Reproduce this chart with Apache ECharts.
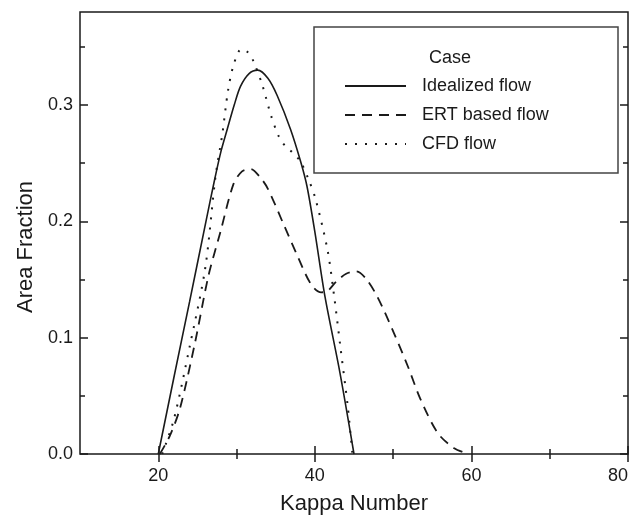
<!DOCTYPE html>
<html>
<head>
<meta charset="utf-8">
<script src="https://cdn.jsdelivr.net/npm/echarts@6/dist/echarts.min.js"></script>
<style>
  html, body { margin: 0; padding: 0; background: #fff; }
  #chart { width: 633px; height: 517px; }
</style>
</head>
<body>
<div id="chart"></div>
<script>
// data: [kappa number, area fraction]
var idealizedFlow = [
  [20, 0], [22, 0.066], [24, 0.131], [26, 0.197], [27.2, 0.236], [28, 0.26],
  [28.8, 0.279], [29.7, 0.3], [30.5, 0.316], [31.6, 0.327], [32.7, 0.330],
  [34, 0.323], [35.2, 0.308], [36.9, 0.279], [38.2, 0.251], [39, 0.23],
  [40, 0.191], [41.3, 0.135], [43.2, 0.07], [45, 0]
];
var ertFlow = [
  [20.2, 0], [21.5, 0.016], [22.8, 0.04], [24.7, 0.096], [26.4, 0.153], [27.9, 0.19],
  [29.6, 0.232], [30.7, 0.243], [31.8, 0.245], [33, 0.238], [34, 0.228],
  [36.1, 0.196], [37.8, 0.17], [39.5, 0.146], [40.8, 0.139], [41.6, 0.14],
  [42.7, 0.148], [44, 0.155], [45.3, 0.157], [46.5, 0.151], [48, 0.135],
  [50.1, 0.104], [51.9, 0.075], [53.5, 0.047], [55.7, 0.018], [57.8, 0.005], [59.6, 0]
];
var cfdFlow = [
  [20.5, 0], [22, 0.03], [24, 0.092], [26, 0.16], [27.3, 0.238], [28.2, 0.276],
  [28.9, 0.312], [29.6, 0.334], [30.6, 0.348], [31.5, 0.345], [32.2, 0.337],
  [33.3, 0.317], [34.4, 0.291], [35.4, 0.273], [36.3, 0.264], [37.2, 0.259],
  [38.2, 0.251], [39.2, 0.236], [40.1, 0.219], [41.6, 0.176], [42.4, 0.139],
  [43.3, 0.09], [44.2, 0.041], [44.8, 0]
];
var seriesNames = ['Idealized flow', 'ERT based flow', 'CFD flow'];
var xMajor = [20, 40, 60, 80];
var xMinor = [30, 50, 70];
var yMajor = [0, 0.1, 0.2, 0.3];
var yMinor = [0.05, 0.15, 0.25, 0.35];

var ink = '#1a1a1a';
var font = 'Liberation Sans, Arial, sans-serif';

function tickAxis(pos, ticks, len, extra) {
  var ax = {
    type: 'value',
    position: pos,
    axisLine: { show: false },
    splitLine: { show: false },
    axisTick: { show: true, inside: true, length: len, customValues: ticks, lineStyle: { color: ink, width: 1.5 } },
    axisLabel: { show: false }
  };
  return Object.assign(ax, extra);
}

var xRange = { min: 10, max: 80 };
var yRange = { min: 0, max: 0.38 };

var chart = echarts.init(document.getElementById('chart'));
chart.setOption({
  animation: false,
  backgroundColor: '#fff',
  textStyle: { fontFamily: font },
  grid: {
    left: 80, right: 5, top: 12, bottom: 63,
    outerBoundsMode: 'none',
    containLabel: false,
    show: true, borderColor: ink, borderWidth: 1.5
  },
  xAxis: [
    tickAxis('bottom', xMajor, 8, Object.assign({
      name: 'Kappa Number',
      nameLocation: 'middle',
      nameGap: 39,
      nameTextStyle: { fontSize: 22, color: ink, fontFamily: font },
      axisLabel: {
        show: true, customValues: xMajor, margin: 13, fontSize: 18, color: ink, fontFamily: font,
        alignMaxLabel: 'right'
      }
    }, xRange)),
    tickAxis('bottom', xMinor, 5, xRange),
    tickAxis('top', xMajor, 8, xRange),
    tickAxis('top', xMinor, 5, xRange)
  ],
  yAxis: [
    tickAxis('left', yMajor, 8, Object.assign({
      name: 'Area Fraction',
      nameLocation: 'middle',
      nameGap: 38,
      nameTextStyle: { fontSize: 22, color: ink, fontFamily: font, padding: [0, 28, 0, 0] },
      axisLabel: {
        show: true, customValues: yMajor, margin: 7, fontSize: 18, color: ink, fontFamily: font,
        formatter: function (v) { return v.toFixed(1); }
      }
    }, yRange)),
    tickAxis('left', yMinor, 5, yRange),
    tickAxis('right', yMajor, 8, yRange),
    tickAxis('right', yMinor, 5, yRange)
  ],
  graphic: [
    {
      type: 'rect',
      shape: { x: 314, y: 27, width: 304, height: 146 },
      style: { fill: '#fff', stroke: '#444', lineWidth: 1.5 },
      z: 10
    },
    {
      type: 'text',
      x: 429, y: 58,
      style: { text: 'Case', fontSize: 18, fill: ink, fontFamily: font, verticalAlign: 'middle' },
      z: 11
    }
  ],
  legend: {
    orient: 'vertical',
    left: 344,
    top: 77,
    padding: 0,
    itemWidth: 61,
    itemHeight: 14,
    itemGap: 11,
    z: 12,
    data: seriesNames,
    itemStyle: { opacity: 0 },
    textStyle: { fontSize: 18, color: ink, fontFamily: font, padding: [0, 0, 0, 11] }
  },
  series: [
    {
      name: seriesNames[0], type: 'line', data: idealizedFlow,
      smooth: 0.3, symbol: 'none', itemStyle: { color: ink },
      lineStyle: { color: ink, width: 1.6, type: 'solid' }
    },
    {
      name: seriesNames[1], type: 'line', data: ertFlow,
      smooth: 0.3, symbol: 'none', itemStyle: { color: ink },
      lineStyle: { color: ink, width: 1.8, type: [10, 7] }
    },
    {
      name: seriesNames[2], type: 'line', data: cfdFlow,
      smooth: 0.3, symbol: 'none', itemStyle: { color: ink },
      lineStyle: { color: ink, width: 2, type: [2, 8] }
    }
  ]
});
</script>
</body>
</html>
